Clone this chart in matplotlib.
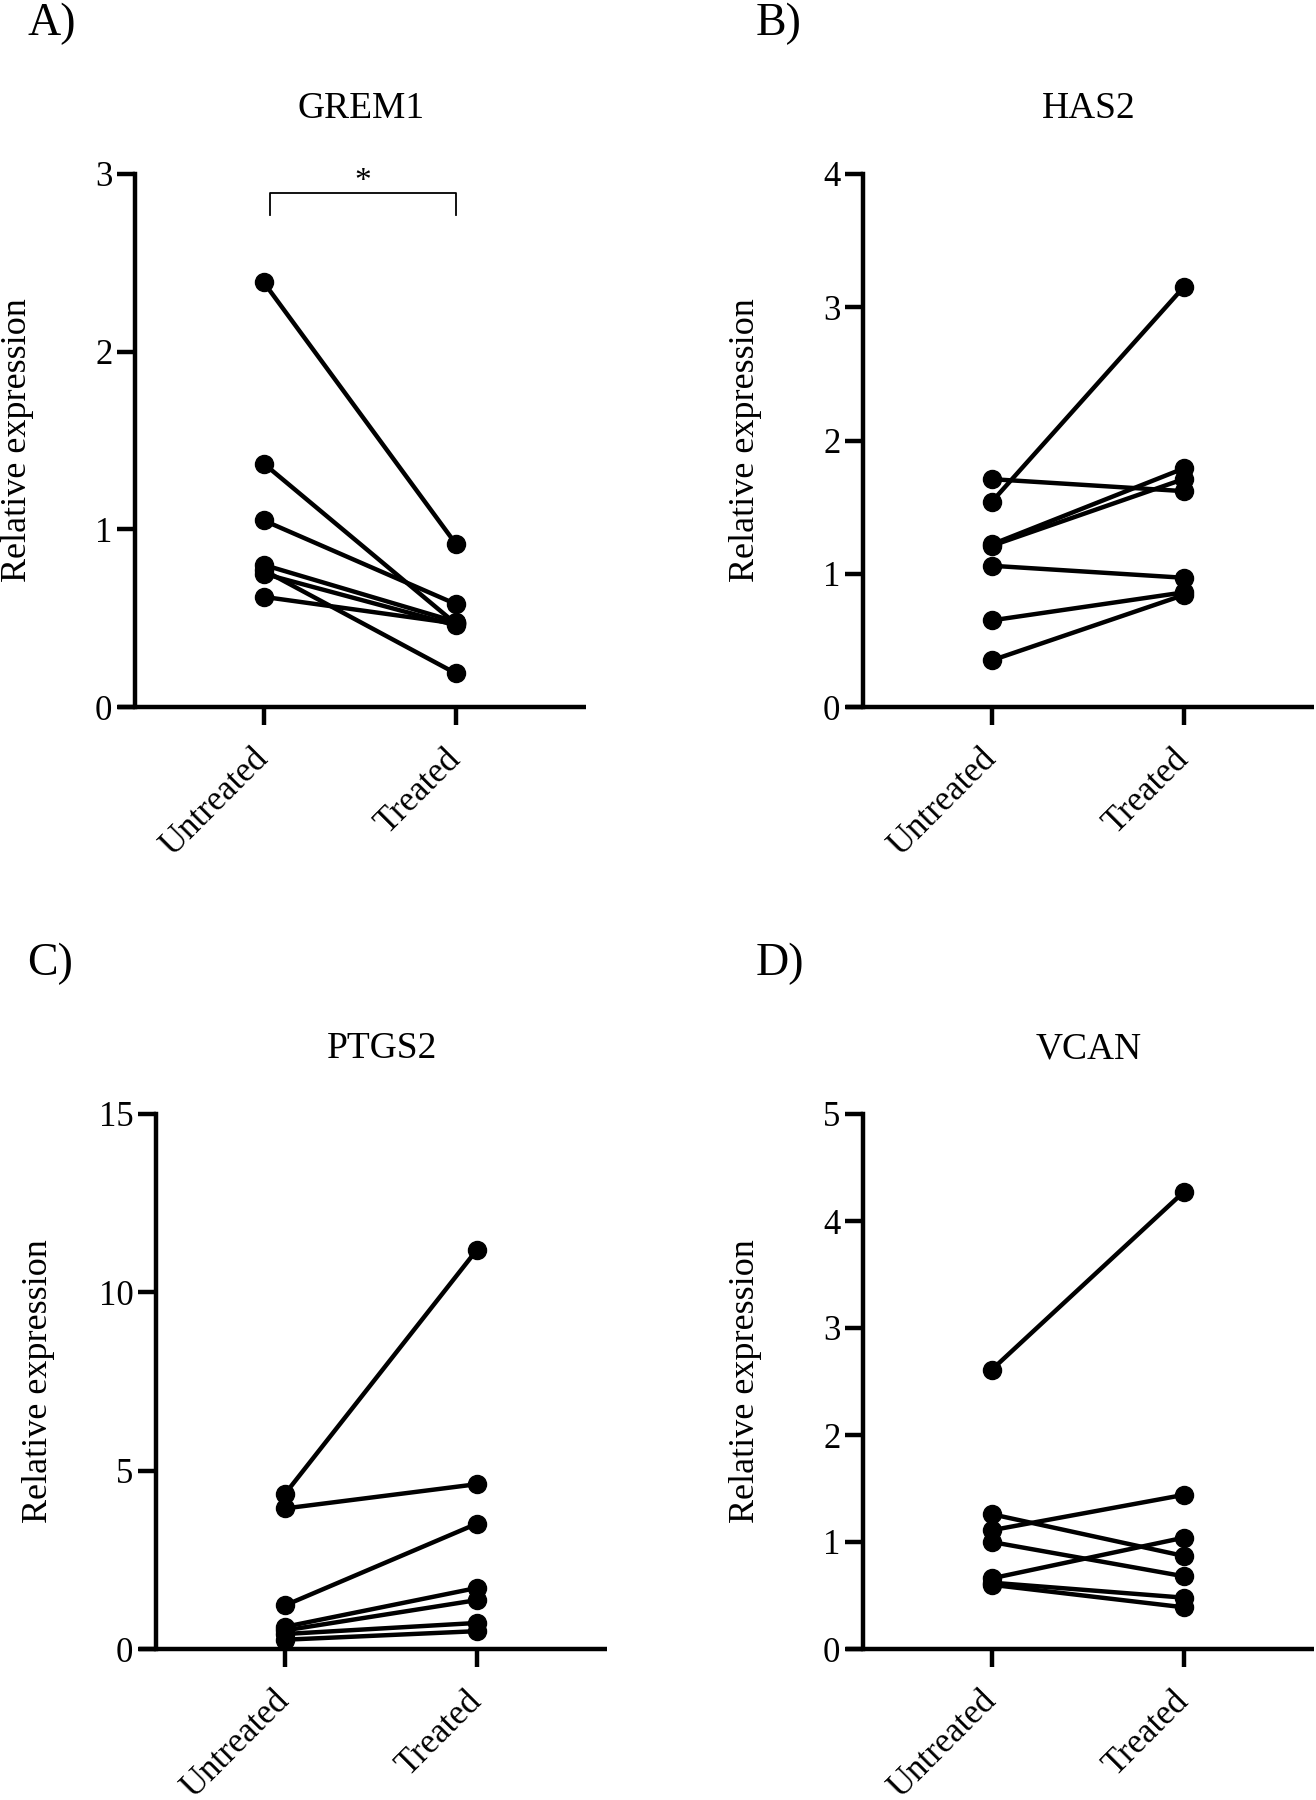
from matplotlib import pyplot as plt

# Paired samples, one pair per donor
groups = ["Untreated", "Treated"]

grem1_untreated = [2.39, 1.37, 1.05, 0.80, 0.77, 0.75, 0.62]
grem1_treated = [0.92, 0.47, 0.58, 0.48, 0.19, 0.46, 0.47]

has2_untreated = [1.54, 1.71, 1.22, 1.21, 1.06, 0.65, 0.35]
has2_treated = [3.15, 1.62, 1.79, 1.71, 0.97, 0.86, 0.84]

ptgs2_untreated = [4.34, 3.94, 1.22, 0.62, 0.52, 0.42, 0.26]
ptgs2_treated = [11.18, 4.62, 3.51, 1.71, 1.37, 0.73, 0.50]

vcan_untreated = [2.61, 1.26, 1.11, 1.00, 0.66, 0.62, 0.60]
vcan_treated = [4.27, 0.87, 1.44, 0.68, 1.04, 0.48, 0.39]

grem1_ticks = [0, 1, 2, 3]
has2_ticks = [0, 1, 2, 3, 4]
ptgs2_ticks = [0, 5, 10, 15]
vcan_ticks = [0, 1, 2, 3, 4, 5]

plt.rcParams['font.family'] = ['Liberation Serif', 'DejaVu Serif']

W, H = 1316, 1800
X_LEFT, X_RIGHT, SPINE_X = -0.76, 1.68, -0.67


def paired_panel(fig, rect, letter, title, before, after, yticks, label_x):
    """Draw one before/after panel in GraphPad style."""
    left, top, width, bottom = rect
    ax = fig.add_axes([left / W, 1 - bottom / H, width / W, (bottom - top) / H])

    for b, a in zip(before, after):
        ax.plot([0, 1], [b, a], color='black', lw=3.2, marker='o',
                markersize=13, clip_on=False, solid_capstyle='butt')

    ax.set_xlim(X_LEFT, X_RIGHT)
    ax.set_ylim(yticks[0], yticks[-1])
    ax.set_yticks(yticks)
    ax.set_xticks([0, 1])
    ax.set_xticklabels(groups)

    for side in ('top', 'right'):
        ax.spines[side].set_visible(False)
    ax.spines['left'].set_position(('data', SPINE_X))
    ax.spines['left'].set_linewidth(3.2)
    ax.spines['bottom'].set_linewidth(3.2)
    ax.spines['bottom'].set_capstyle('butt')

    ax.tick_params(axis='y', length=13, width=3.2, labelsize=25, pad=3.5)
    ax.tick_params(axis='x', length=13, width=3.2, labelsize=25, pad=21)
    for lab in ax.get_xticklabels():
        lab.set_rotation(45)
        lab.set_rotation_mode('anchor')
        lab.set_ha('right')
        lab.set_va('center')

    spine_frac = (SPINE_X - X_LEFT) / (X_RIGHT - X_LEFT)
    ax.set_title(title, fontsize=27, pad=40, x=(spine_frac + 1) / 2)

    spine_px = left + spine_frac * width
    fig.text((spine_px - 118) / W, 1 - ((top + bottom) / 2) / H,
             "Relative expression", rotation=90, fontsize=26,
             ha='center', va='center')
    fig.text(label_x / W, 1 - (top - 139) / H, letter, fontsize=33,
             va='baseline')
    return ax


def main():
    fig = plt.figure(figsize=(W / 100, H / 100), dpi=100)

    ax_a = paired_panel(fig, (118, 174, 468, 707), "A)", "GREM1",
                        grem1_untreated, grem1_treated, grem1_ticks, 28)
    paired_panel(fig, (846, 174, 468, 707), "B)", "HAS2",
                 has2_untreated, has2_treated, has2_ticks, 756)
    paired_panel(fig, (139, 1114, 468, 1649), "C)", "PTGS2",
                 ptgs2_untreated, ptgs2_treated, ptgs2_ticks, 27)
    paired_panel(fig, (846, 1114, 468, 1649), "D)", "VCAN",
                 vcan_untreated, vcan_treated, vcan_ticks, 756)

    # significance bracket on GREM1
    ax_a.plot([0.034, 0.034, 1.0, 1.0], [2.77, 2.894, 2.894, 2.77],
              color='black', lw=1.3, clip_on=False)
    ax_a.text(0.517, 2.91, "*", fontsize=24, ha='center', va='baseline')

    fig.savefig("out.png", dpi=100)


if __name__ == "__main__":
    main()
